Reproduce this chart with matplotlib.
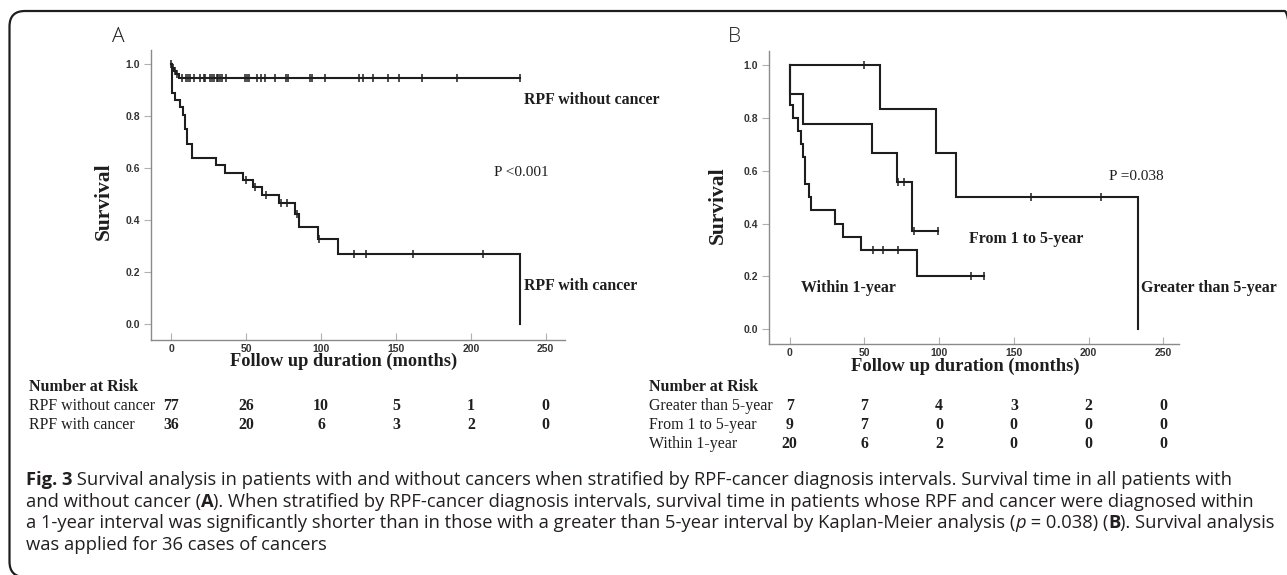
import numpy as np
import matplotlib
matplotlib.use("Agg")
from matplotlib import pyplot as plt
from matplotlib.patches import FancyBboxPatch
from matplotlib.transforms import blended_transform_factory

W, H = 1287, 575

# ---- panel A data ----
no_ca_t = [0, 0.5, 1.5, 3, 5]
no_ca_s = [1.0, 0.987, 0.974, 0.961, 0.948]
no_ca_end = 233
no_ca_cens = [0, 1.3, 2.4, 3.5, 6.8, 9.5, 10.9, 12.3, 15, 19, 21.8, 22.4, 25.9, 27.3,
              28.6, 30.2, 31.4, 32.5, 34, 36.8, 49.2, 50.3, 51.8, 57.3, 60, 62.7, 69.5,
              76.3, 77.7, 92.7, 94, 102.8, 125.4, 128, 135, 144.5, 152, 167.7, 190.8, 233]

ca_t = [0, 0.7, 2.4, 5.7, 8, 9, 10.6, 13.5, 30, 36, 48, 54.7, 60.8, 72, 82.5, 85, 98.2, 111, 233]
ca_s = [1.0, 0.889, 0.864, 0.835, 0.806, 0.75, 0.694, 0.639, 0.611, 0.583, 0.555, 0.527,
        0.497, 0.466, 0.424, 0.375, 0.327, 0.272, 0.0]
ca_end = 233
ca_cens = [49.8, 55.8, 63, 73, 77, 83.7, 98.8, 122, 130, 161.6, 208]

# ---- panel B data ----
gt5_t = [0, 60.6, 97.6, 111, 233]
gt5_s = [1.0, 0.833, 0.667, 0.5, 0.0]
gt5_end = 233
gt5_cens = [50, 161.3, 208]

mid_t = [0, 0.3, 9.2, 54.9, 72, 82]
mid_s = [1.0, 0.889, 0.778, 0.667, 0.556, 0.370]
mid_end = 99
mid_cens = [72.7, 76.6, 83.3, 99]

w1_t = [0, 0.5, 2.5, 5.8, 7.6, 9.2, 10.1, 13, 14.1, 30.3, 35.9, 47.7, 84.9]
w1_s = [1.0, 0.85, 0.8, 0.75, 0.7, 0.65, 0.55, 0.5, 0.45, 0.4, 0.35, 0.3, 0.2]
w1_end = 130.1
w1_cens = [55.9, 62.6, 72.7, 121.6, 130.1]

risk_times = [0, 50, 100, 150, 200, 250]
risk_a_labels = ["RPF without cancer", "RPF with cancer"]
risk_a = [[77, 26, 10, 5, 1, 0], [36, 20, 6, 3, 2, 0]]
risk_b_labels = ["Greater than 5-year", "From 1 to 5-year", "Within 1-year"]
risk_b = [[7, 7, 4, 3, 2, 0], [9, 7, 0, 0, 0, 0], [20, 6, 2, 0, 0, 0]]

yticks = [0.0, 0.2, 0.4, 0.6, 0.8, 1.0]
xticks = [0, 50, 100, 150, 200, 250]

SERIF = ["Liberation Serif", "DejaVu Serif"]
NARROW = ["Liberation Sans Narrow", "Liberation Sans", "DejaVu Sans"]
CAP = ["Open Sans", "DejaVu Sans"]
INK = "#1e1e1e"


def fx(px):
    return px / W


def fy(py):
    return 1 - py / H


def km(ax, t, s, end, cens):
    tt = list(t)
    ss = list(s)
    if tt[-1] < end:
        tt.append(end)
        ss.append(ss[-1])
    ax.step(tt, ss, where="post", color=INK, lw=1.5, solid_joinstyle="miter")
    idx = np.searchsorted(t, cens, side="right") - 1
    cy = np.array(s)[idx]
    ax.plot(cens, cy, ls="none", marker="|", ms=6, mew=1.1, color=INK)


def style(ax, xlim, ylim):
    ax.set_xlim(*xlim)
    ax.set_ylim(*ylim)
    for sp in ["top", "right"]:
        ax.spines[sp].set_visible(False)
    for sp in ["left", "bottom"]:
        ax.spines[sp].set_color("#8a8a8a")
        ax.spines[sp].set_linewidth(1.0)
    ax.set_yticks(yticks)
    ax.set_yticklabels([f"{v:.1f}" for v in yticks])
    ax.set_xticks(xticks)
    ax.tick_params(axis="y", direction="out", length=5, width=0.8, color="#b0b0b0",
                   pad=3, labelsize=7.5, labelcolor="#333333")
    ax.tick_params(axis="x", direction="in", length=5, width=0.8, color="#b0b0b0",
                   pad=3, labelsize=7.5, labelcolor="#333333")
    for lab in ax.get_xticklabels() + ax.get_yticklabels():
        lab.set_family(NARROW)
        lab.set_fontweight("bold")


fig = plt.figure(figsize=(W / 100, H / 100), dpi=100)

# rounded frame of the figure panel
frame = FancyBboxPatch((fx(9.5), fy(577)), fx(1300) - fx(9.5), fy(11) - fy(577),
                       boxstyle="round,pad=0,rounding_size=0.012",
                       transform=fig.transFigure, fill=False, ec=INK, lw=1.6,
                       mutation_aspect=W / H)
fig.patches.append(frame)

# ---- Panel A ----
axA = fig.add_axes([fx(151), fy(340), fx(565.3) - fx(151), fy(50) - fy(340)])
km(axA, no_ca_t, no_ca_s, no_ca_end, no_ca_cens)
km(axA, ca_t, ca_s, ca_end, ca_cens)
style(axA, (-13.6, 263.1), (-0.06, 1.055))

fig.text(fx(118), fy(37), "A", fontsize=15, family=CAP, ha="center", va="center",
         color=INK, fontweight="light")
fig.text(fx(104), fy(201), "Survival", rotation=90, fontsize=15.5, family=SERIF,
         fontweight="bold", ha="center", va="center", color=INK)
fig.text(fx(344), fy(361), "Follow up duration (months)", fontsize=13.2, family=SERIF,
         fontweight="bold", ha="center", va="center", color=INK)
fig.text(fx(524.5), fy(100), "RPF without cancer", fontsize=11.4, family=SERIF,
         fontweight="bold", ha="left", va="center", color=INK)
fig.text(fx(524.5), fy(286), "RPF with cancer", fontsize=11.4, family=SERIF,
         fontweight="bold", ha="left", va="center", color=INK)
fig.text(fx(494), fy(173), "P <0.001", fontsize=11, family=SERIF,
         ha="left", va="center", color=INK)

trA = blended_transform_factory(axA.transData, fig.transFigure)
fig.text(fx(29.4), fy(386.7), "Number at Risk", fontsize=11.5, family=SERIF,
         fontweight="bold", ha="left", va="center", color=INK)
for i, (lab, row) in enumerate(zip(risk_a_labels, risk_a)):
    yy = fy(406 + 19 * i)
    fig.text(fx(29.4), yy, lab, fontsize=11.4, family=SERIF, ha="left", va="center", color=INK)
    for t, n in zip(risk_times, row):
        fig.text(t, yy, str(n), transform=trA, fontsize=11.4, family=SERIF,
                 fontweight="bold", ha="center", va="center", color=INK)

# ---- Panel B ----
axB = fig.add_axes([fx(769.3), fy(344), fx(1179) - fx(769.3), fy(50.7) - fy(344)])
km(axB, gt5_t, gt5_s, gt5_end, gt5_cens)
km(axB, mid_t, mid_s, mid_end, mid_cens)
km(axB, w1_t, w1_s, w1_end, w1_cens)
style(axB, (-13.6, 260.5), (-0.056, 1.054))

fig.text(fx(734), fy(37), "B", fontsize=15, family=CAP, ha="center", va="center",
         color=INK, fontweight="light")
fig.text(fx(718), fy(205), "Survival", rotation=90, fontsize=15.5, family=SERIF,
         fontweight="bold", ha="center", va="center", color=INK)
fig.text(fx(965.5), fy(366), "Follow up duration (months)", fontsize=13.3, family=SERIF,
         fontweight="bold", ha="center", va="center", color=INK)
fig.text(fx(1109), fy(177), "P =0.038", fontsize=11, family=SERIF,
         ha="left", va="center", color=INK)
fig.text(fx(969.3), fy(239), "From 1 to 5-year", fontsize=11.4, family=SERIF,
         fontweight="bold", ha="left", va="center", color=INK)
fig.text(fx(801), fy(288), "Within 1-year", fontsize=11.4, family=SERIF,
         fontweight="bold", ha="left", va="center", color=INK)
fig.text(fx(1140.8), fy(288), "Greater than 5-year", fontsize=11.4, family=SERIF,
         fontweight="bold", ha="left", va="center", color=INK)

trB = blended_transform_factory(axB.transData, fig.transFigure)
fig.text(fx(649), fy(386.7), "Number at Risk", fontsize=11.5, family=SERIF,
         fontweight="bold", ha="left", va="center", color=INK)
for i, (lab, row) in enumerate(zip(risk_b_labels, risk_b)):
    yy = fy(406 + 19 * i)
    fig.text(fx(649), yy, lab, fontsize=11.4, family=SERIF, ha="left", va="center", color=INK)
    for t, n in zip(risk_times, row):
        fig.text(t, yy, str(n), transform=trB, fontsize=11.4, family=SERIF,
                 fontweight="bold", ha="center", va="center", color=INK)

# ---- caption, built from styled pieces ----
caption = [
    [("Fig. 3", "bold", "normal"),
     (" Survival analysis in patients with and without cancers when stratified by RPF-cancer "
      "diagnosis intervals. Survival time in all patients with", "normal", "normal")],
    [("and without cancer (", "normal", "normal"), ("A", "bold", "normal"),
     ("). When stratified by RPF-cancer diagnosis intervals, survival time in patients whose RPF "
      "and cancer were diagnosed within", "normal", "normal")],
    [("a 1-year interval was significantly shorter than in those with a greater than 5-year "
      "interval by Kaplan-Meier analysis (", "normal", "normal"), ("p", "normal", "italic"),
     (" = 0.038) (", "normal", "normal"), ("B", "bold", "normal"),
     ("). Survival analysis", "normal", "normal")],
    [("was applied for 36 cases of cancers", "normal", "normal")],
]
cap_y = [480, 501.7, 523.3, 544.5]

renderer = fig.canvas.get_renderer()
for line, py in zip(caption, cap_y):
    x = 25.7
    for txt, wt, st in line:
        t = fig.text(fx(x), fy(py), txt, fontsize=13.2, family=CAP, fontweight=wt,
                     fontstyle=st, ha="left", va="center", color="#231f20")
        bb = t.get_window_extent(renderer)
        x += bb.width

fig.savefig("out.png", dpi=100)
